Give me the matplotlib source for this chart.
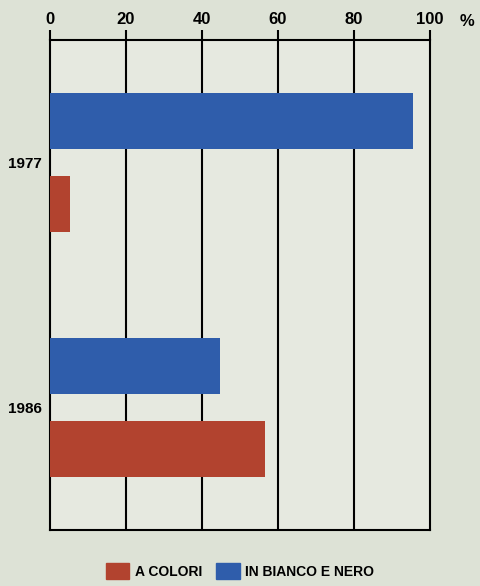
import matplotlib.pyplot as plt
import matplotlib.patches as mpatches
import numpy as np

# data
years = ["1977", "1986"]
a_colori = [5.3, 56.5]          # red
bianco_nero = [95.5, 44.8]      # blue
xticks = [0, 20, 40, 60, 80, 100]

red = "#b2432f"
blue = "#2f5dab"
bg = "#dde2d6"
inner = "#e6e9e0"

fig = plt.figure(figsize=(4.8, 5.86), dpi=100, facecolor=bg)
ax = fig.add_axes([50/480, 1 - 530/586, 380/480, 490/586])
ax.set_facecolor(inner)

font = dict(family=["Liberation Sans", "DejaVu Sans"], weight="bold")

y = np.arange(len(years))
h = 0.23
off = 0.17
ax.barh(y - off, bianco_nero, height=h, color=blue, zorder=3)
ax.barh(y + off, a_colori, height=h, color=red, zorder=3)

ax.set_xlim(0, 100)
ax.set_ylim(1.5, -0.5)

# vertical grid lines
for v in xticks[1:-1]:
    ax.axvline(v, color="black", lw=1.5, zorder=2)

for s in ax.spines.values():
    s.set_color("black")
    s.set_linewidth(1.5)

ax.xaxis.tick_top()
ax.set_xticks(xticks)
ax.set_xticklabels([str(t) for t in xticks], fontsize=12, **font)
ax.tick_params(axis="x", direction="out", length=7, width=1.5, pad=2)

ax.set_yticks(y)
ax.set_yticklabels(years, fontsize=11, **font)
ax.tick_params(axis="y", length=0, pad=6)

fig.text(467/480, 1 - 21/586, "%", fontsize=12, ha="center", va="center", **font)

# legend
handles = [mpatches.Patch(color=red, label="A COLORI"),
           mpatches.Patch(color=blue, label="IN BIANCO E NERO")]
fig.legend(handles=handles, loc="center", bbox_to_anchor=(0.5, 1 - 571/586),
           ncol=2, frameon=False, handlelength=1.7, handleheight=1.5,
           handletextpad=0.4, columnspacing=1.0,
           prop=dict(family=["Liberation Sans", "DejaVu Sans"], weight="bold", size=10))

fig.savefig("out.png", dpi=100, facecolor=bg)
